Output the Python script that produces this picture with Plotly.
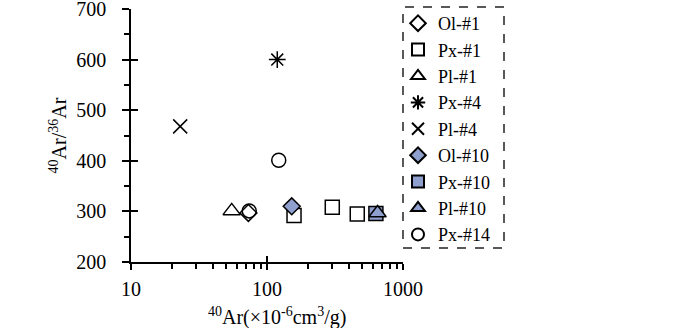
import plotly.graph_objects as go

# ---- data ----
ol1_x = [73]
ol1_y = [297]
px1_x = [158, 302, 461]
px1_y = [292, 308, 295]
pl1_x = [55]
pl1_y = [301]
px4_x = [119]
px4_y = [600]
pl4_x = [23]
pl4_y = [468]
ol10_x = [152]
ol10_y = [310]
px10_x = [632]
px10_y = [296]
pl10_x = [650]
pl10_y = [297]
px14_x = [74, 122]
px14_y = [301, 401]

y_ticks = [200, 300, 400, 500, 600, 700]
x_ticks = [10, 100, 1000]

FILL = "#8FA0CE"
FONT = "Liberation Serif, Times New Roman, serif"

series = [
    ("Ol-#1", ol1_x, ol1_y, "diamond-open", 13, None),
    ("Px-#1", px1_x, px1_y, "square-open", 14, None),
    ("Pl-#1", pl1_x, pl1_y, "triangle-up-open", 15, None),
    ("Px-#4", px4_x, px4_y, "asterisk-open", 14, None),
    ("Pl-#4", pl4_x, pl4_y, "x-thin-open", 14, None),
    ("Ol-#10", ol10_x, ol10_y, "diamond", 13, FILL),
    ("Px-#10", px10_x, px10_y, "square", 14, FILL),
    ("Pl-#10", pl10_x, pl10_y, "triangle-up", 15, FILL),
    ("Px-#14", px14_x, px14_y, "circle-open", 14, None),
]

fig = go.Figure()
for name, xs, ys, sym, size, col in series:
    fig.add_trace(go.Scatter(
        x=xs, y=ys, mode="markers", name=name,
        marker=dict(symbol=sym, size=size, color=col if col else "black",
                    line=dict(color="black", width=1.5)),
    ))

# empty trace to hold the overlay axes (inner half of the major ticks)
fig.add_trace(go.Scatter(x=[], y=[], xaxis="x2", yaxis="y2", showlegend=False, hoverinfo="skip"))

L, R, T, B = 131, 297, 9, 66
PW, PH = 700 - L - R, 328 - T - B
fig.update_layout(
    width=700, height=328,
    margin=dict(l=L, r=R, t=T, b=B, autoexpand=False),
    paper_bgcolor="white", plot_bgcolor="white",
    font=dict(family=FONT, size=20, color="black"),
    showlegend=True,
    legend=dict(x=(398 - L) / PW, y=(262 - 5) / PH, xanchor="left", yanchor="top",
                bgcolor="rgba(0,0,0,0)", borderwidth=0, maxheight=1.0,
                font=dict(family=FONT, size=18, color="black"), itemsizing="constant",
                tracegroupgap=0),
    xaxis=dict(type="log", range=[1, 3], tickvals=x_ticks, ticktext=[str(v) for v in x_ticks],
               showgrid=False, zeroline=False, showline=True, linecolor="black", linewidth=1.5,
               ticks="outside", ticklen=6, tickwidth=1.5, tickcolor="black",
               minor=dict(ticks="outside", ticklen=5, tickwidth=1.5, tickcolor="black",
                          dtick="D1", showgrid=False),
               ticklabelstandoff=2, ticklabeloverflow="allow"),
    yaxis=dict(range=[200, 700], tickvals=y_ticks, showgrid=False, zeroline=False,
               showline=True, linecolor="black", linewidth=1.5,
               ticks="outside", ticklen=7, tickwidth=1.5, tickcolor="black",
               minor=dict(ticks="outside", ticklen=5, tickwidth=1.5, tickcolor="black",
                          dtick=50, showgrid=False),
               ticklabelstandoff=12, ticklabeloverflow="allow",
               title=dict(text="<sup>40</sup>Ar/<sup>36</sup>Ar", standoff=4,
                          font=dict(family=FONT, size=20))),
    xaxis2=dict(type="log", range=[1, 3], overlaying="x", anchor="y2", side="bottom",
                tickvals=x_ticks, showticklabels=False, showgrid=False, zeroline=False,
                showline=False, ticks="inside", ticklen=6, tickwidth=1.5, tickcolor="black"),
    yaxis2=dict(range=[200, 700], overlaying="y", anchor="x2", side="left",
                tickvals=y_ticks, showticklabels=False, showgrid=False, zeroline=False,
                showline=False, ticks="inside", ticklen=7, tickwidth=1.5, tickcolor="black"),
)

fig.add_annotation(text="<sup>40</sup>Ar(×10<sup>-6</sup>cm<sup>3</sup>/g)",
                   xref="paper", yref="paper", x=(277 - L) / PW, y=(262 - 316) / PH,
                   xanchor="center", yanchor="middle", showarrow=False,
                   font=dict(family=FONT, size=20, color="black"))

fig.add_shape(type="rect", xref="paper", yref="paper",
              x0=(403 - L) / PW, x1=(504 - L) / PW,
              y0=(262 - 248) / PH, y1=(262 - 7) / PH,
              line=dict(color="#222222", width=1.5, dash="dash"), fillcolor="rgba(0,0,0,0)")

fig.write_html("out.html", config={"displayModeBar": False},
               post_script="document.body.style.margin='0';")
